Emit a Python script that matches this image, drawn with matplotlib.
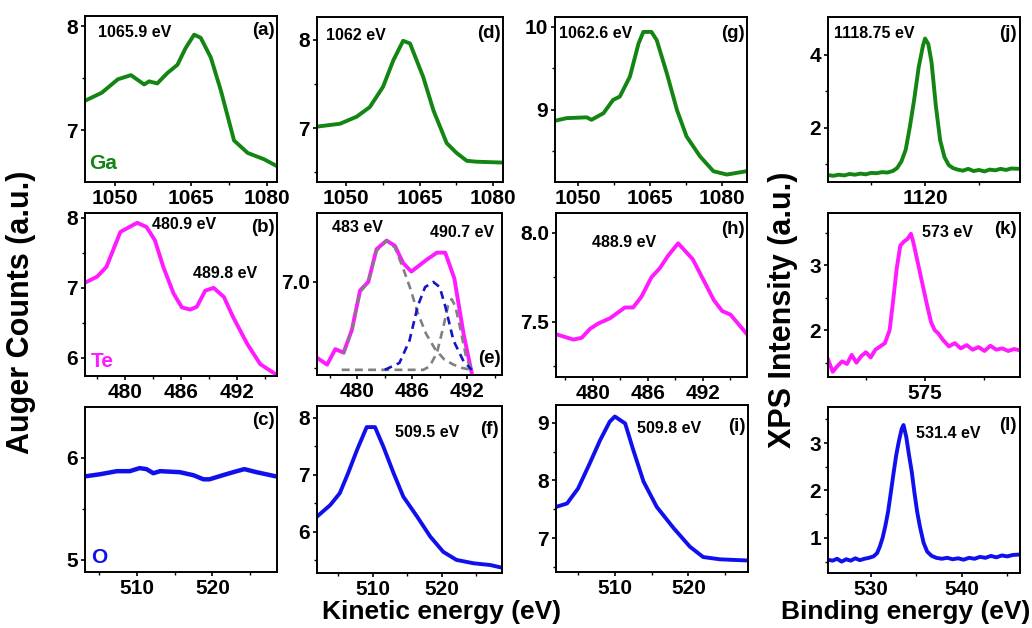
import matplotlib
matplotlib.use('Agg')
import matplotlib.pyplot as plt
from matplotlib.ticker import FixedLocator, FormatStrFormatter

plt.rcParams['font.family'] = ['Liberation Sans', 'DejaVu Sans']
plt.rcParams['font.weight'] = 'bold'

GREEN = '#138513'
PINK = '#ff1aff'
BLUE = '#1010ee'

# ---- Ga region (a, d, g, j) ----
a_x = [1044.3, 1047.3, 1050.5, 1053.1, 1055.7, 1056.7, 1058.3, 1060.3, 1062.3, 1063.9,
       1065.6, 1066.9, 1068.9, 1070.9, 1073.5, 1076.2, 1079.4, 1082.1]
a_y = [7.29, 7.36, 7.49, 7.53, 7.44, 7.47, 7.45, 7.55, 7.63, 7.79,
       7.92, 7.89, 7.70, 7.38, 6.90, 6.78, 6.72, 6.65]

d_x = [1044.3, 1048.7, 1050.4, 1052.1, 1054.8, 1057.5, 1059.6, 1061.6, 1063.0, 1065.7,
       1067.8, 1070.5, 1072.5, 1074.6, 1076.6, 1082.0]
d_y = [7.02, 7.05, 7.09, 7.13, 7.24, 7.47, 7.77, 7.99, 7.96, 7.58,
       7.20, 6.83, 6.72, 6.63, 6.62, 6.61]

g_x = [1045.3, 1047.6, 1051.8, 1052.8, 1055.3, 1057.3, 1058.7, 1060.8, 1062.6, 1063.6,
       1065.3, 1066.4, 1068.5, 1070.6, 1072.6, 1075.4, 1078.2, 1081.0, 1085.1]
g_y = [8.87, 8.90, 8.91, 8.88, 8.96, 9.12, 9.16, 9.40, 9.80, 9.94,
       9.94, 9.84, 9.44, 9.00, 8.68, 8.44, 8.26, 8.22, 8.26]

j_x = [1111.0, 1111.5, 1112.0, 1112.5, 1113.0, 1113.5, 1114.0, 1114.5, 1115.0, 1115.5,
       1116.0, 1116.5, 1117.0, 1117.4, 1117.8, 1118.2, 1118.6, 1119.0, 1119.4, 1119.8,
       1120.0, 1120.3, 1120.6, 1121.0, 1121.4, 1121.8, 1122.2, 1122.6, 1123.0, 1123.5,
       1124.0, 1124.5, 1125.0, 1125.5, 1126.0, 1126.5, 1127.0, 1127.5, 1128.0, 1128.8]
j_y = [0.71, 0.69, 0.72, 0.70, 0.74, 0.72, 0.75, 0.73, 0.77, 0.76,
       0.79, 0.78, 0.82, 0.90, 1.08, 1.40, 2.05, 2.80, 3.65, 4.25,
       4.45, 4.30, 3.80, 2.60, 1.66, 1.20, 0.98, 0.90, 0.86, 0.83,
       0.88, 0.82, 0.85, 0.81, 0.86, 0.84, 0.88, 0.85, 0.89, 0.88]

# ---- Te region (b, e, h, k) ----
b_x = [475.8, 477.0, 478.0, 479.5, 481.3, 482.3, 483.2, 484.1, 485.2, 486.1,
       487.0, 487.7, 488.6, 489.5, 490.6, 491.6, 493.1, 494.5, 496.1]
b_y = [7.08, 7.16, 7.30, 7.80, 7.93, 7.87, 7.68, 7.30, 6.92, 6.72,
       6.69, 6.73, 6.96, 7.00, 6.87, 6.58, 6.20, 5.91, 5.77]

e_x = [475.6, 476.7, 477.6, 478.5, 479.4, 480.3, 481.2, 482.1, 483.2, 484.1,
       485.0, 485.9, 487.6, 488.7, 489.6, 490.6, 491.6, 492.5]
e_y = [6.56, 6.52, 6.61, 6.59, 6.72, 6.95, 7.00, 7.19, 7.24, 7.21,
       7.11, 7.06, 7.13, 7.17, 7.17, 7.02, 6.70, 6.47]
e_fit1_x = [478.5, 479.4, 480.3, 481.2, 482.1, 483.2, 484.1, 485.0, 485.8, 486.6,
            487.5, 488.5, 489.5, 490.5, 491.5, 492.5]
e_fit1_y = [6.58, 6.72, 6.94, 7.00, 7.18, 7.24, 7.20, 7.08, 6.96, 6.82,
            6.70, 6.61, 6.55, 6.52, 6.50, 6.49]
e_fit2_x = [483.0, 484.6, 485.7, 486.6, 487.4, 488.3, 489.0, 489.6, 490.5, 491.6, 492.5]
e_fit2_y = [6.49, 6.53, 6.66, 6.86, 6.97, 7.00, 6.97, 6.86, 6.66, 6.54, 6.49]
e_fit3_x = [478.3, 487.2, 487.9, 488.7, 489.4, 489.9, 490.3, 490.7, 491.2, 491.9, 492.5]
e_fit3_y = [6.49, 6.49, 6.51, 6.59, 6.74, 6.86, 6.90, 6.86, 6.74, 6.56, 6.49]

h_x = [476.0, 477.9, 478.8, 479.7, 480.6, 481.9, 483.5, 484.4, 485.3, 486.4,
       487.3, 488.2, 489.3, 490.9, 492.1, 493.2, 494.1, 495.0, 496.8]
h_y = [7.43, 7.40, 7.41, 7.46, 7.49, 7.52, 7.58, 7.58, 7.64, 7.75,
       7.80, 7.87, 7.94, 7.85, 7.73, 7.62, 7.56, 7.54, 7.43]

k_x = [566.8, 567.2, 567.6, 568.0, 568.4, 568.8, 569.2, 569.6, 570.0, 570.4,
       570.8, 571.2, 571.6, 572.0, 572.3, 572.6, 572.9, 573.2, 573.5, 573.8,
       574.0, 574.3, 574.6, 574.9, 575.2, 575.5, 575.8, 576.1, 576.5, 577.0,
       577.5, 578.0, 578.5, 579.0, 579.5, 580.0, 580.5, 581.0, 581.5, 582.0,
       582.5, 583.0]
k_y = [1.55, 1.36, 1.45, 1.52, 1.48, 1.62, 1.50, 1.60, 1.66, 1.58,
       1.70, 1.75, 1.80, 2.00, 2.46, 2.95, 3.30, 3.36, 3.40, 3.48,
       3.35, 3.10, 2.85, 2.60, 2.35, 2.12, 2.00, 1.95, 1.85, 1.75,
       1.80, 1.72, 1.77, 1.70, 1.74, 1.68, 1.76, 1.70, 1.72, 1.68,
       1.71, 1.69]

# ---- O region (c, f, i, l) ----
c_x = [503.3, 505.2, 507.4, 509.1, 510.4, 511.3, 512.2, 513.1, 515.7, 517.5,
       518.8, 519.6, 521.8, 523.2, 524.2, 525.8, 528.3]
c_y = [5.82, 5.84, 5.87, 5.87, 5.90, 5.89, 5.85, 5.87, 5.86, 5.83,
       5.79, 5.79, 5.84, 5.87, 5.89, 5.86, 5.82]

f_x = [501.9, 503.8, 505.2, 506.4, 507.7, 509.1, 510.3, 511.5, 513.0, 514.4,
       516.4, 518.3, 520.2, 522.1, 524.6, 527.0, 528.8]
f_y = [6.27, 6.47, 6.68, 7.03, 7.44, 7.84, 7.84, 7.50, 7.03, 6.62,
       6.27, 5.92, 5.65, 5.51, 5.45, 5.42, 5.37]

i_x = [502.0, 503.5, 505.0, 506.6, 508.0, 509.3, 510.0, 511.4, 512.5, 513.9,
       515.7, 518.0, 520.2, 522.0, 524.3, 528.0]
i_y = [7.54, 7.60, 7.86, 8.30, 8.70, 9.02, 9.11, 8.99, 8.53, 7.98,
       7.54, 7.17, 6.85, 6.67, 6.63, 6.61]

l_x = [525.3, 525.8, 526.3, 526.8, 527.3, 527.8, 528.3, 528.8, 529.3, 529.8,
       530.3, 530.7, 531.0, 531.3, 531.6, 531.9, 532.2, 532.5, 532.8, 533.1,
       533.4, 533.6, 533.9, 534.2, 534.5, 534.8, 535.1, 535.4, 535.8, 536.2,
       536.7, 537.2, 537.8, 538.4, 539.0, 539.6, 540.2, 540.8, 541.4, 542.0,
       542.6, 543.2, 543.8, 544.4, 545.0, 545.6, 546.4]
l_y = [0.54, 0.52, 0.56, 0.50, 0.55, 0.52, 0.57, 0.53, 0.56, 0.58,
       0.61, 0.68, 0.82, 1.00, 1.25, 1.55, 1.95, 2.36, 2.75, 3.05,
       3.30, 3.38, 3.13, 2.75, 2.40, 1.95, 1.55, 1.24, 0.90, 0.71,
       0.62, 0.58, 0.56, 0.58, 0.55, 0.57, 0.54, 0.58, 0.56, 0.60,
       0.58, 0.62, 0.59, 0.63, 0.61, 0.64, 0.65]

fig = plt.figure(figsize=(10.32, 6.28), dpi=100)
LW = 2.8


def panel(l, t, r, b, xlim, ylim, xmaj, xmin, ymaj, ymin, yfmt='%g'):
    ax = fig.add_axes([l / 1032, 1 - b / 628, (r - l) / 1032, (b - t) / 628])
    ax.set_xlim(xlim)
    ax.set_ylim(ylim)
    ax.xaxis.set_major_locator(FixedLocator(xmaj))
    ax.xaxis.set_minor_locator(FixedLocator(xmin))
    ax.yaxis.set_major_locator(FixedLocator(ymaj))
    ax.yaxis.set_minor_locator(FixedLocator(ymin))
    ax.yaxis.set_major_formatter(FormatStrFormatter(yfmt))
    ax.tick_params(which='major', direction='out', length=3, width=1.2,
                   labelsize=15, pad=2)
    ax.tick_params(which='minor', direction='out', length=2.5, width=1.0)
    for sp in ax.spines.values():
        sp.set_linewidth(1.4)
    return ax


def tag(ax, x, y, s, size=11.5, ha='left', color='black'):
    ax.text(x, y, s, transform=ax.transAxes, fontsize=size, fontweight='bold',
            ha=ha, va='center', color=color)


ga_ticks = [1050, 1065, 1080]
ga_minor = [1057.5, 1072.5]
te_ticks = [480, 486, 492]
te_minor = [477, 483, 489, 495]
o_ticks = [510, 520]
o_minor = [505, 515, 525]

# row 1
ax = panel(85, 16, 277, 182, (1044, 1082), (6.5, 8.1), ga_ticks, ga_minor, [7, 8], [7.5])
ax.plot(a_x, a_y, color=GREEN, lw=LW)
tag(ax, 0.07, 0.90, '1065.9 eV')
tag(ax, 0.99, 0.91, '(a)', size=13.5, ha='right')
tag(ax, 0.02, 0.11, 'Ga', size=15, color=GREEN)

ax = panel(317, 17, 503, 182, (1044, 1082), (6.39, 8.26), ga_ticks, ga_minor, [7, 8], [6.5, 7.5])
ax.plot(d_x, d_y, color=GREEN, lw=LW)
tag(ax, 0.05, 0.89, '1062 eV')
tag(ax, 0.99, 0.90, '(d)', size=13.5, ha='right')

ax = panel(555, 17, 747, 182, (1045.2, 1085.2), (8.13, 10.12), ga_ticks, ga_minor, [9, 10], [8.5, 9.5])
ax.plot(g_x, g_y, color=GREEN, lw=LW)
tag(ax, 0.02, 0.90, '1062.6 eV')
tag(ax, 0.99, 0.90, '(g)', size=13.5, ha='right')

ax = panel(828, 17, 1020, 182, (1111, 1128.8), (0.52, 5.04), [1120], [1115, 1125], [2, 4], [1, 3])
ax.plot(j_x, j_y, color=GREEN, lw=LW)
tag(ax, 0.03, 0.90, '1118.75 eV')
tag(ax, 0.985, 0.90, '(j)', size=13.5, ha='right')

# row 2
ax = panel(85, 213, 277, 376, (475.7, 496.3), (5.74, 8.07), te_ticks, te_minor, [6, 7, 8], [6.5, 7.5])
ax.plot(b_x, b_y, color=PINK, lw=LW)
tag(ax, 0.35, 0.93, '480.9 eV')
tag(ax, 0.56, 0.63, '489.8 eV')
tag(ax, 0.99, 0.91, '(b)', size=13.5, ha='right')
tag(ax, 0.03, 0.09, 'Te', size=15, color=PINK)

ax = panel(317, 213, 502, 375, (475.6, 495.8), (6.46, 7.40), te_ticks, te_minor, [7.0], [6.5], yfmt='%.1f')
ax.plot(e_x, e_y, color=PINK, lw=LW)
ax.plot(e_fit1_x, e_fit1_y, color='gray', lw=1.9, ls=(0, (3, 2)))
ax.plot(e_fit3_x, e_fit3_y, color='gray', lw=1.9, ls=(0, (3, 2)))
ax.plot(e_fit2_x, e_fit2_y, color='#1515c8', lw=1.9, ls=(0, (3, 2)))
tag(ax, 0.08, 0.91, '483 eV')
tag(ax, 0.61, 0.88, '490.7 eV')
tag(ax, 0.995, 0.10, '(e)', size=13.5, ha='right')

ax = panel(556, 213, 747, 377, (476, 496.8), (7.19, 8.11), te_ticks, te_minor, [7.5, 8.0], [7.25, 7.75], yfmt='%.1f')
ax.plot(h_x, h_y, color=PINK, lw=LW)
tag(ax, 0.19, 0.82, '488.9 eV')
tag(ax, 0.99, 0.90, '(h)', size=13.5, ha='right')

ax = panel(828, 213, 1020, 377, (566.8, 583.0), (1.28, 3.8), [575], [570, 580], [2, 3], [1.5, 2.5, 3.5])
ax.plot(k_x, k_y, color=PINK, lw=LW)
tag(ax, 0.49, 0.88, '573 eV')
tag(ax, 0.985, 0.90, '(k)', size=13.5, ha='right')

# row 3
ax = panel(85, 407, 277, 572, (503.2, 528.5), (4.88, 6.5), o_ticks, o_minor, [5, 6], [5.5])
ax.plot(c_x, c_y, color=BLUE, lw=3.2)
tag(ax, 0.99, 0.92, '(c)', size=13.5, ha='right')
tag(ax, 0.03, 0.09, 'O', size=15, color=BLUE)

ax = panel(317, 406, 502, 573, (501.9, 528.7), (5.28, 8.21), o_ticks, o_minor, [6, 7, 8], [5.5, 6.5, 7.5])
ax.plot(f_x, f_y, color=BLUE, lw=LW)
tag(ax, 0.42, 0.84, '509.5 eV')
tag(ax, 0.985, 0.86, '(f)', size=13.5, ha='right')

ax = panel(556, 405, 748, 572, (502, 528.1), (6.41, 9.31), o_ticks, o_minor, [7, 8, 9], [6.5, 7.5, 8.5])
ax.plot(i_x, i_y, color=BLUE, lw=LW)
tag(ax, 0.42, 0.86, '509.8 eV')
tag(ax, 0.99, 0.87, '(i)', size=13.5, ha='right')

ax = panel(828, 407, 1020, 573, (525.3, 546.4), (0.26, 3.76), [530, 540], [535, 545], [1, 2, 3], [0.5, 1.5, 2.5, 3.5])
ax.plot(l_x, l_y, color=BLUE, lw=LW)
tag(ax, 0.46, 0.84, '531.4 eV')
tag(ax, 0.98, 0.89, '(l)', size=13.5, ha='right')

# shared axis titles
fig.text(21 / 1032, 1 - 312 / 628, 'Auger Counts (a.u.)', rotation=90, fontsize=22,
         fontweight='bold', ha='center', va='center')
fig.text(783 / 1032, 1 - 310 / 628, 'XPS Intensity (a.u.)', rotation=90, fontsize=22,
         fontweight='bold', ha='center', va='center')
fig.text(442 / 1032, 1 - 612 / 628, 'Kinetic energy (eV)', fontsize=19,
         fontweight='bold', ha='center', va='center')
fig.text(906 / 1032, 1 - 612 / 628, 'Binding energy (eV)', fontsize=19,
         fontweight='bold', ha='center', va='center')

fig.savefig('out.png', dpi=100)
